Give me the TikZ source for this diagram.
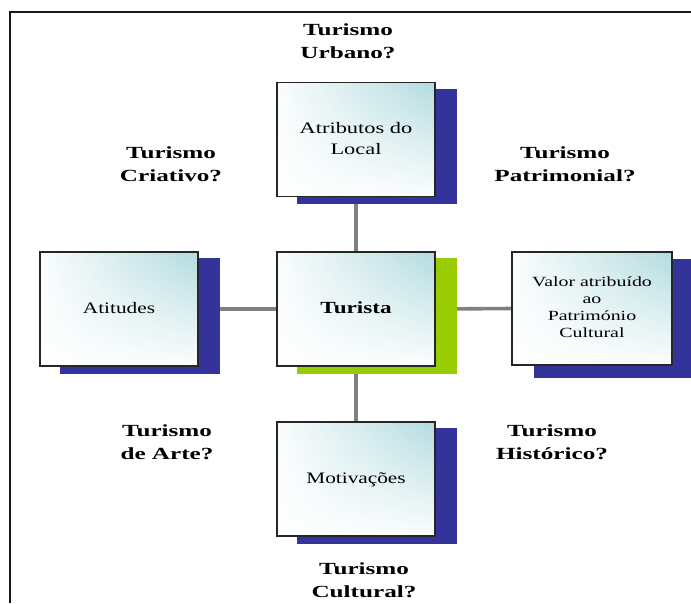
\documentclass[tikz,border=0pt]{standalone}
\usepackage{fontspec}
\setmainfont{Liberation Serif}
\usepackage{graphicx}
\usetikzlibrary{calc,backgrounds,shadings}

\definecolor{tealtop}{RGB}{178,219,223}
\definecolor{shadowblue}{RGB}{51,51,153}
\definecolor{shadowgreen}{RGB}{153,204,0}
\definecolor{linkgray}{RGB}{128,128,128}

% horizontally widened, centred multi-line text
\newcommand{\wtext}[2]{\scalebox{#1}[1]{\begin{tabular}{@{}c@{}}#2\end{tabular}}}

\begin{document}
\begin{tikzpicture}[x=1pt,y=-1pt,
  card/.style={rectangle, draw=black!85, line width=1.2pt,
    minimum width=158pt, minimum height=114pt, inner sep=0pt,
    upper right=tealtop, upper left=white!94!tealtop,
    lower left=white!98!tealtop, lower right=white!95!tealtop},
  cardtext/.style={font=\fontsize{16}{21}\selectfont},
  tag/.style={inner sep=0pt, font=\fontsize{17}{23}\selectfont\bfseries},
  link/.style={draw=linkgray, line width=3.6pt}]

\useasboundingbox (0,0) rectangle (691,603);

% frame
\draw[line width=2pt, black!90] (10,603) -- (10,12) -- (691,12);

% boxes
\node[card, cardtext] (atrib) at (356,139.5) {\wtext{1.4}{Atributos do\\Local}};
\node[card] (tur) at (356,309) {\fontsize{17}{20}\selectfont\bfseries\wtext{1.36}{Turista}};
\node[card, cardtext] (ati) at (119,309) {\wtext{1.33}{Atitudes}};
\node[card, minimum width=160pt, minimum height=113pt,
      font=\fontsize{14}{17}\selectfont] (valor) at (592,308.5)
      {\wtext{1.42}{Valor atribuído\\ao\\Património\\Cultural}};
\node[card, cardtext] (motiv) at (356,479) {\wtext{1.33}{Motivações}};

% connectors and drop shadows behind the boxes
\begin{scope}[on background layer]
  \draw[link] (atrib.south) -- (tur.north);
  \draw[link] (tur.south) -- (motiv.north);
  \draw[link] (ati.east) -- (tur.west);
  \draw[link] (tur.east) -- (valor.west);
  \fill[shadowblue] ($(atrib.south west)+(21,7)$) rectangle ($(atrib.north east)+(21,7)$);
  \fill[shadowblue] ($(ati.south west)+(21,7)$) rectangle ($(ati.north east)+(21,7)$);
  \fill[shadowblue] ($(motiv.south west)+(21,7)$) rectangle ($(motiv.north east)+(21,7)$);
  \fill[shadowblue] ($(valor.south west)+(23,12)$) rectangle ($(valor.north east)+(23,8)$);
  \fill[shadowgreen] ($(tur.south west)+(21,7)$) rectangle ($(tur.north east)+(21,7)$);
\end{scope}

% tourism labels
\node[tag] (urbano) at (348,42) {\wtext{1.48}{Turismo\\Urbano?}};
\node[tag] (criativo) at (171,165.5) {\wtext{1.48}{Turismo\\Criativo?}};
\node[tag] (patrim) at (565,165.5) {\wtext{1.48}{Turismo\\Patrimonial?}};
\node[tag] (arte) at (167,443.5) {\wtext{1.48}{Turismo\\de Arte?}};
\node[tag] (hist) at (552,443.5) {\wtext{1.48}{Turismo\\Histórico?}};
\node[tag] (cult) at (364,581.5) {\wtext{1.48}{Turismo\\Cultural?}};

\end{tikzpicture}
\end{document}
